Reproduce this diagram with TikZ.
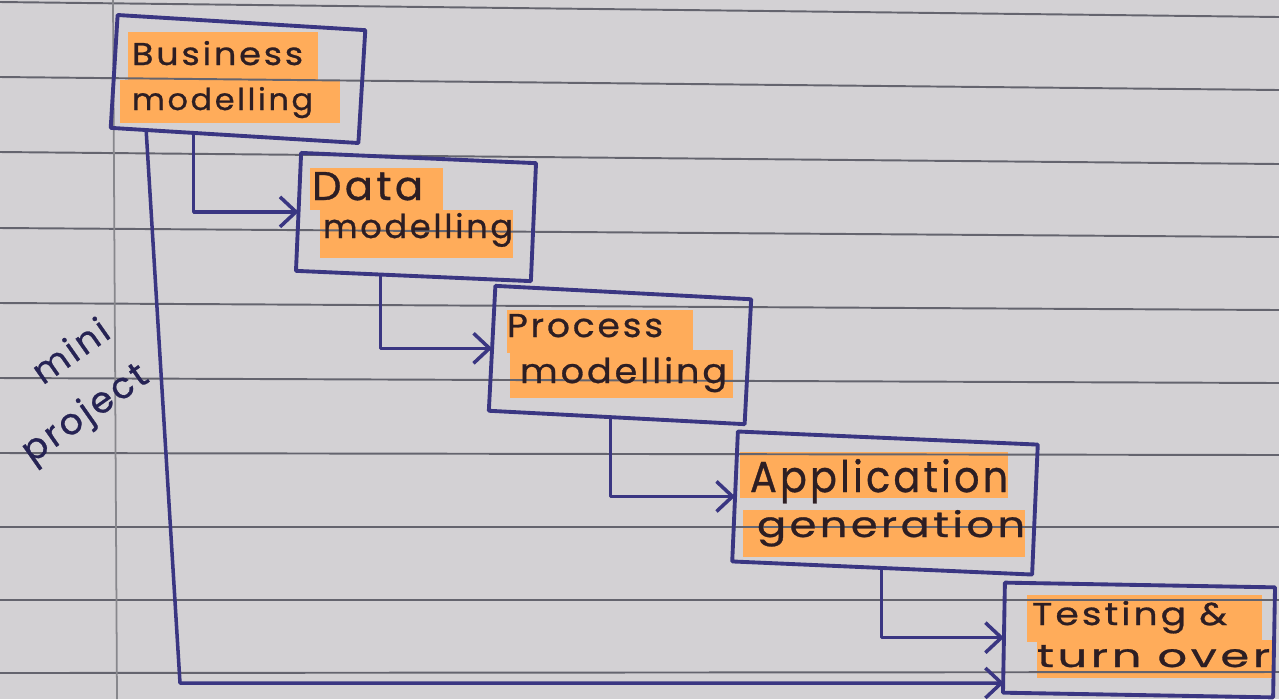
\documentclass[tikz,border=0pt]{standalone}
\usepackage{fontspec}
\usepackage{graphicx}
\setmainfont{Poppins}[LetterSpace=8, FakeBold=0.8]
\usetikzlibrary{arrows.meta,calc}

\definecolor{paper}{RGB}{211,209,212}
\definecolor{rulecol}{RGB}{100,100,110}
\definecolor{margincol}{RGB}{135,135,140}
\definecolor{ink}{RGB}{58,54,130}
\definecolor{pen}{RGB}{45,30,35}
\definecolor{marker}{RGB}{255,172,90}

% set a line of text to a given width and height
\newcommand\fitwh[3]{\resizebox{#1}{#2}{#3}}

\begin{document}
\begin{tikzpicture}[x=0.01cm,y=-0.01cm,
  frame/.style={draw=ink, line width=1.1pt, rectangle, inner sep=0pt, outer sep=0pt, line join=round},
  txt/.style={text=pen, inner sep=0pt, outer sep=0pt, anchor=base west},
  hl/.style={fill=marker},
  rl/.style={draw=rulecol, line width=0.55pt},
  conn/.style={draw=ink, line width=1pt, line join=round, -{Straight Barb[length=1.6mm,width=3mm]}},
  note/.style={text=ink!65!black, inner sep=0pt, rotate=35}]

\useasboundingbox (0,0) rectangle (1279,699);
\fill[paper] (0,0) rectangle (1279,699);

% marker highlights behind each line of text
\fill[hl] (128,32) rectangle (318,80);
\fill[hl] (120,80) rectangle (340,123);
\fill[hl] (310,168) rectangle (443,210);
\fill[hl] (320,210) rectangle (513,258);
\fill[hl] (507,310) rectangle (693,353);
\fill[hl] (510,350) rectangle (733,398);
\fill[hl] (740,452) rectangle (1008,498);
\fill[hl] (743,510) rectangle (1025,557);
\fill[hl] (1027,595) rectangle (1262,642);
\fill[hl] (1037,640) rectangle (1272,678);

% ruled paper
\foreach \l/\r in {2/17, 77/90, 152/164, 228/237, 303/310, 378/383, 453/455, 527/527, 600/600, 673/672}
  \draw[rl] (0,\l) -- (1279,\r);
\draw[draw=margincol, line width=0.5pt] (113,0) -- (117,699);

% stage boxes
\node[frame, minimum width=2.48cm, minimum height=1.13cm, rotate=-3.5] (b1) at (238,79) {};
\node[frame, minimum width=2.35cm, minimum height=1.18cm, rotate=-2.5] (b2) at (416,217) {};
\node[frame, minimum width=2.56cm, minimum height=1.25cm, rotate=-3] (b3) at (620,355) {};
\node[frame, minimum width=3.00cm, minimum height=1.30cm, rotate=-2.5] (b4) at (885,503) {};
\node[frame, minimum width=2.70cm, minimum height=1.10cm, rotate=-1] (b5) at (1139,640) {};

% stage names
\node[txt] (t1a) at (132,65) {\fitwh{1.71cm}{0.24cm}{Business}};
\node[txt] (t1b) at (132,110) {\fitwh{1.81cm}{0.23cm}{modelling}};
\node[txt] (t2a) at (312,200) {\fitwh{1.11cm}{0.28cm}{Data}};
\node[txt] (t2b) at (323,238) {\fitwh{1.90cm}{0.25cm}{modelling}};
\node[txt] (t3a) at (507,337) {\fitwh{1.56cm}{0.23cm}{Process}};
\node[txt] (t3b) at (520,383) {\fitwh{2.07cm}{0.26cm}{modelling}};
\node[txt] (t4a) at (750,492) {\fitwh{2.58cm}{0.33cm}{Application}};
\node[txt] (t4b) at (757,537) {\fitwh{2.68cm}{0.27cm}{generation}};
\node[txt] (t5a) at (1032,625) {\fitwh{1.95cm}{0.24cm}{Testing \&}};
\node[txt] (t5b) at (1037,667) {\fitwh{2.33cm}{0.22cm}{turn over}};

% flow between stages
\draw[conn] ($(b1.south west)!0.335!(b1.south east)$) |- (b2.west);
\draw[conn] ($(b2.south west)!0.36!(b2.south east)$) |- (b3.west);
\draw[conn] ($(b3.south west)!0.476!(b3.south east)$) |- (b4.west);
\draw[conn] ($(b4.south west)!0.497!(b4.south east)$) |- (b5.west);

% shortcut for a mini project
\coordinate (low) at (180,683);
\draw[conn] ($(b1.south west)!0.143!(b1.south east)$) -- (low) -- (low -| b5.west);
\node[note] (mini) at (70,350) {\resizebox{0.85cm}{!}{mini}};
\node[note] (proj) at (86,415) {\resizebox{1.45cm}{!}{project}};
\end{tikzpicture}
\end{document}
